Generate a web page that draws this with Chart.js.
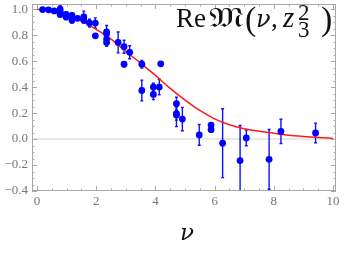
<!DOCTYPE html>
<html>
<head>
<meta charset="utf-8">
<script src="https://cdn.jsdelivr.net/npm/chart.js@4"></script>
<style>
  html, body { margin: 0; padding: 0; background: #fff; }
</style>
</head>
<body>
<canvas id="myChart" width="346" height="260"></canvas>
<script>
// lattice points (nu, Re M, error)
const nu = [0.19, 0.39, 0.58, 0.78, 0.78, 0.78, 0.98, 0.98, 1.18, 1.18,
  1.37, 1.58, 1.58, 1.77, 1.97, 1.97, 2.35, 2.35, 2.35, 2.35,
  2.74, 2.94, 2.94, 3.13, 3.54, 3.54, 3.93, 3.93, 4.13, 4.18,
  4.71, 4.71, 4.71, 4.91, 5.48, 5.88, 5.88, 6.27, 6.86, 7.07,
  7.84, 8.24, 9.41];
const reM = [0.997, 0.995, 0.987, 1.0, 0.98, 0.96, 0.96, 0.94, 0.952, 0.914,
  0.93, 0.94, 0.914, 0.893, 0.893, 0.795, 0.825, 0.81, 0.77, 0.744,
  0.744, 0.711, 0.576, 0.668, 0.576, 0.374, 0.40, 0.344, 0.40, 0.579,
  0.272, 0.196, 0.186, 0.154, 0.032, 0.108, 0.072, -0.032, -0.166, 0.009,
  -0.156, 0.059, 0.047];
const errM = [0.005, 0.005, 0.01, 0.03, 0.02, 0.02, 0.02, 0.02, 0.02, 0.02,
  0.01, 0.045, 0.02, 0.03, 0.04, 0.01, 0.05, 0.03, 0.03, 0.03,
  0.08, 0.05, 0.02, 0.05, 0.03, 0.08, 0.03, 0.04, 0.06, 0.01,
  0.05, 0.05, 0.09, 0.09, 0.08, 0.01, 0.01, 0.265, 0.27, 0.06,
  0.23, 0.093, 0.076];

// fit curve
const curveNu = [0, 0.5, 1, 1.5, 2, 2.5, 3, 3.5, 4, 4.5, 5, 5.5, 6, 6.5, 7, 7.5, 8, 8.5, 9, 9.5, 10];
const curveRe = [1.0, 0.99, 0.955, 0.91, 0.845, 0.77, 0.675, 0.585, 0.49, 0.39, 0.30, 0.22, 0.155, 0.11, 0.08, 0.06, 0.045, 0.03, 0.02, 0.012, 0.005];

const gray = "#a8a8a8";
const labelColor = "#777";
const serif = '"Liberation Serif", "DejaVu Serif", serif';
const greek = '"DejaVu Serif", serif';

const framePlugin = {
  id: "frame",
  beforeDatasetsDraw(chart) {
    const { ctx, chartArea: a, scales } = chart;
    const y0 = scales.y.getPixelForValue(0);
    ctx.save();
    ctx.strokeStyle = "#e8e8e8";
    ctx.lineWidth = 2;
    ctx.beginPath();
    ctx.moveTo(a.left, y0);
    ctx.lineTo(a.right, y0);
    ctx.stroke();

    // error bars
    ctx.beginPath();
    ctx.rect(a.left, a.top, a.right - a.left, a.bottom - a.top);
    ctx.clip();
    ctx.strokeStyle = "#1010ff";
    ctx.lineWidth = 1.4;
    for (let i = 0; i < nu.length; i++) {
      const px = scales.x.getPixelForValue(nu[i]);
      const lo = scales.y.getPixelForValue(reM[i] - errM[i]);
      const hi = scales.y.getPixelForValue(reM[i] + errM[i]);
      ctx.beginPath();
      ctx.moveTo(px, lo);
      ctx.lineTo(px, hi);
      ctx.moveTo(px - 1.5, lo);
      ctx.lineTo(px + 1.5, lo);
      ctx.moveTo(px - 1.5, hi);
      ctx.lineTo(px + 1.5, hi);
      ctx.stroke();
    }
    ctx.restore();
  },
  afterDraw(chart) {
    const { ctx, chartArea: a, scales } = chart;
    ctx.save();
    ctx.strokeStyle = gray;
    ctx.lineWidth = 1;
    ctx.strokeRect(a.left + 0.5, a.top + 0.5, a.right - a.left - 1, a.bottom - a.top - 1);

    ctx.beginPath();
    for (let v = 0; v <= 10.001; v += 0.5) {
      const px = Math.round(scales.x.getPixelForValue(v)) + 0.5;
      const len = Math.abs(v % 2) < 0.01 ? 5 : 2.5;
      ctx.moveTo(px, a.bottom);
      ctx.lineTo(px, a.bottom - len);
      ctx.moveTo(px, a.top);
      ctx.lineTo(px, a.top + len);
    }
    for (let k = -8; k <= 20; k++) {
      const v = k * 0.05;
      const py = Math.round(scales.y.getPixelForValue(v)) + 0.5;
      const len = k % 4 === 0 ? 5 : 2.5;
      ctx.moveTo(a.left, py);
      ctx.lineTo(a.left + len, py);
      ctx.moveTo(a.right, py);
      ctx.lineTo(a.right - len, py);
    }
    ctx.stroke();

    // title inside the frame, pieces placed where the reference has them
    const base = 27;
    ctx.fillStyle = "#111";
    ctx.textBaseline = "alphabetic";
    const put = (t, f, x, y, w) => {
      ctx.font = f;
      if (w) {
        const m = ctx.measureText(t).width;
        ctx.save();
        ctx.translate(x, y);
        ctx.scale(w / m, 1);
        ctx.fillText(t, 0, 0);
        ctx.restore();
      } else {
        ctx.fillText(t, x, y);
      }
    };
    put("Re", "27px " + serif, 176, base, 30);
    put("\u{1D510}", "27px " + serif, 209, base, 35);
    put("(", "34px " + serif, 245, base + 3);
    put("\u03BD", "italic 24px " + greek, 256, base);
    put(",", "27px " + serif, 271, base);
    put("z", "italic 29px " + serif, 283, base);
    put("2", "23px " + serif, 298, base - 7);
    put("3", "23px " + serif, 298, base + 10);
    put(")", "34px " + serif, 321, base + 3);

    // x axis title
    ctx.font = "italic 23px " + greek;
    ctx.textAlign = "center";
    ctx.fillText("\u03BD", (a.left + a.right) / 2 + 3, 240);
    ctx.restore();
  }
};

const fmt = (v) => {
  const s = Math.abs(v) < 1e-9 ? "0.0" : v.toFixed(1);
  return s.replace("-", "\u2212");
};

new Chart(document.getElementById("myChart"), {
  type: "scatter",
  data: {
    datasets: [
      {
        type: "line",
        data: curveNu.map((x, i) => ({ x: x, y: curveRe[i] })),
        borderColor: "#ff1a1a",
        borderWidth: 1.5,
        pointRadius: 0,
        cubicInterpolationMode: "monotone",
        fill: false,
        order: 2,
      },
      {
        data: nu.map((x, i) => ({ x: x, y: reM[i] })),
        backgroundColor: "#0000ff",
        borderWidth: 0,
        pointRadius: 3.4,
        order: 1,
      },
    ],
  },
  options: {
    responsive: false,
    animation: false,
    layout: { padding: { top: 2, right: 10, left: 0, bottom: 0 } },
    plugins: { legend: { display: false }, tooltip: { enabled: false } },
    scales: {
      x: {
        type: "linear",
        min: -0.17,
        max: 10.1,
        grid: { display: false, drawTicks: false },
        border: { display: false },
        ticks: {
          stepSize: 2,
          includeBounds: false,
          padding: 3,
          color: labelColor,
          font: { family: "Liberation Serif", size: 13 },
          callback: (v) => String(v),
        },
        afterFit: (s) => { s.height = 69; },
      },
      y: {
        min: -0.4,
        max: 1.04,
        grid: { display: false, drawTicks: false },
        border: { display: false },
        ticks: {
          stepSize: 0.2,
          includeBounds: false,
          padding: 4,
          color: labelColor,
          font: { family: "Liberation Serif", size: 13 },
          callback: fmt,
        },
        afterFit: (s) => { s.width = 32; s.paddingTop = 0; s.paddingBottom = 0; },
      },
    },
  },
  plugins: [framePlugin],
});
</script>
</body>
</html>
